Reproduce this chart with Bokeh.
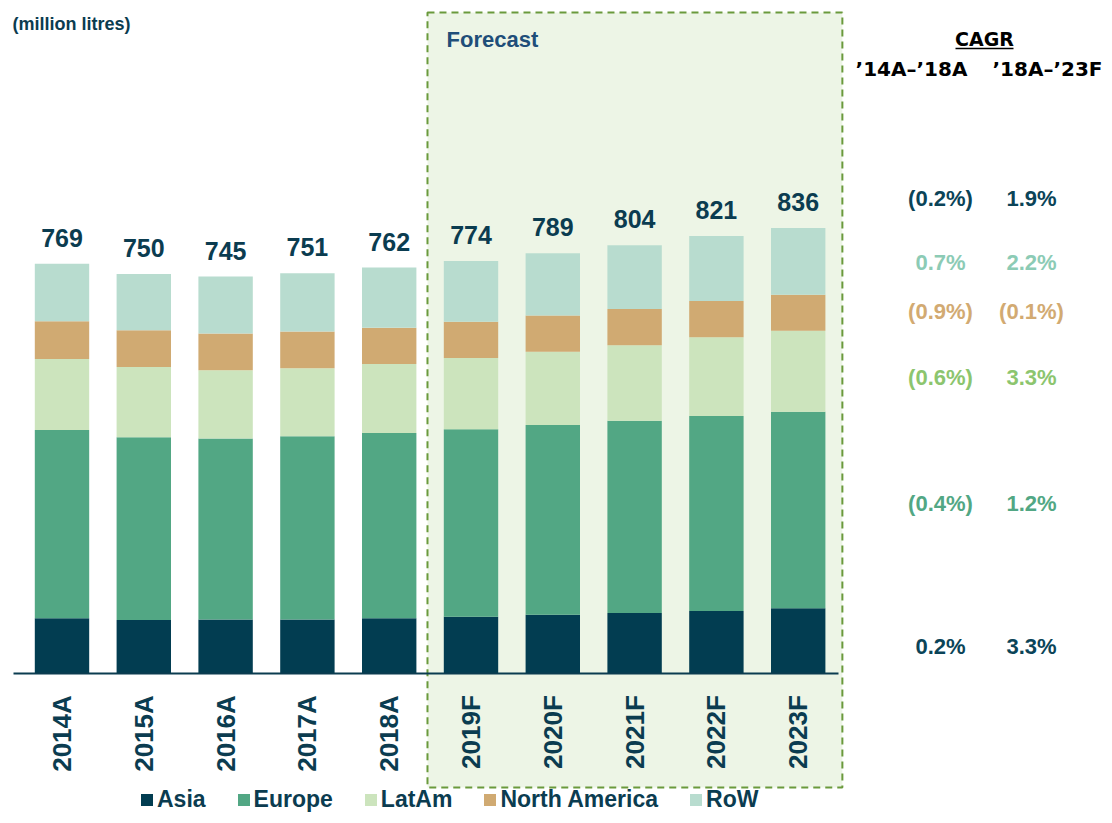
import math
from bokeh.plotting import figure
from bokeh.models import (Range1d, FixedTicker, BoxAnnotation, Legend, LegendItem,
                          ColumnDataSource)
from bokeh.core.properties import value
from bokeh.embed import file_html
from bokeh.resources import INLINE

# ---------------- data (million litres) ----------------
years = ["2014A", "2015A", "2016A", "2017A", "2018A",
         "2019F", "2020F", "2021F", "2022F", "2023F"]
asia = [103, 100, 101, 101, 103, 106, 110, 113, 117, 122]
europe = [354, 343, 340, 344, 348, 352, 356, 361, 366, 369]
latam = [133, 132, 128, 128, 130, 134, 138, 142, 148, 152]
north_america = [71, 69, 69, 69, 68, 68, 68, 68, 68, 68]
rest_of_world = [108, 106, 107, 109, 113, 114, 117, 120, 122, 125]
totals = [769, 750, 745, 751, 762, 774, 789, 804, 821, 836]

series_names = ["Asia", "Europe", "LatAm", "North America", "RoW"]
first_forecast = "2019F"

# CAGR table, rows from top to bottom: Total, RoW, North America, LatAm, Europe, Asia
cagr_rows = ["Total", "RoW", "North America", "LatAm", "Europe", "Asia"]
cagr_14_18 = ["(0.2%)", "0.7%", "(0.9%)", "(0.6%)", "(0.4%)", "0.2%"]
cagr_18_23 = ["1.9%", "2.2%", "(0.1%)", "3.3%", "1.2%", "3.3%"]

# ---------------- styles / layout ----------------
DARK = "#0b3c50"
COLORS = ["#023d51", "#52a784", "#cce4bd", "#d0aa72", "#b8dccf"]
CAGR_COLORS = ["#0b4458", "#8ccbb5", "#d2aa72", "#8cc56e", "#52a784", "#0b4458"]
FONT = value("Liberation Sans")
WIDE_FONT = value("DejaVu Sans")

W, H = 1104, 815
BASE_PY = 672.7         # canvas y of the baseline
PX_PER_UNIT = 0.5324    # vertical scale
X0_PX, STEP_PX = 61.5, 81.8   # canvas x of the first bar centre, category step
CAGR_ROW_PY = [198, 262, 311, 377, 503, 646]   # canvas y of the CAGR table rows


def px_x(px):
    return (px - X0_PX) / STEP_PX


def px_y(py):
    return (BASE_PY - py) / PX_PER_UNIT


idx = list(range(len(years)))
stack_keys = ["asia", "europe", "latam", "north_america", "row"]
src = ColumnDataSource(dict(x=idx, asia=asia, europe=europe, latam=latam,
                            north_america=north_america, row=rest_of_world))

p = figure(width=W, height=H, output_backend="svg", toolbar_location=None,
           title=None, y_axis_location=None,
           x_range=Range1d(px_x(0), px_x(W)),
           y_range=Range1d(px_y(H), px_y(0)),
           min_border=0, min_border_left=0, min_border_right=0,
           min_border_top=0, min_border_bottom=0)
p.outline_line_color = None
p.xgrid.visible = False
p.ygrid.visible = False
p.background_fill_color = "white"

# forecast box
ff = years.index(first_forecast)
box = BoxAnnotation(left=ff - 0.532, right=len(years) - 1 + 0.54,
                    top=px_y(12), bottom=px_y(787),
                    fill_color="#edf5e6", fill_alpha=1.0,
                    line_color="#6a9a3c", line_alpha=1.0, line_width=2,
                    line_dash="7 5", level="underlay")
p.add_layout(box)

# stacked bars
rends = p.vbar_stack(stack_keys, x="x", width=0.665, color=COLORS,
                     line_color=None, source=src)

# totals
p.text(x=idx, y=[t + 26 / PX_PER_UNIT for t in totals], text=[str(t) for t in totals],
       text_align="center", text_baseline="middle", text_font=FONT,
       text_font_style="bold", text_font_size="25px", text_color=DARK)

# x axis placed at the baseline
ax = p.xaxis[0]
ax.fixed_location = 0
ax.ticker = FixedTicker(ticks=idx)
ax.major_label_overrides = {i: y for i, y in zip(idx, years)}
ax.major_label_orientation = math.pi / 2
ax.major_label_text_font = "Liberation Sans"
ax.major_label_text_font_style = "bold"
ax.major_label_text_font_size = "26px"
ax.major_label_text_color = DARK
ax.major_label_standoff = 16
ax.major_tick_line_color = None
ax.minor_tick_line_color = None
ax.axis_line_color = DARK
ax.axis_line_width = 2
ax.bounds = (px_x(13), px_x(838))

# unit note and forecast caption
p.text(x=[px_x(12)], y=[px_y(23)], text=["(million litres)"], text_align="left",
       text_baseline="middle", text_font=FONT, text_font_style="bold",
       text_font_size="18px", text_color=DARK)
p.text(x=[px_x(446)], y=[px_y(39)], text=["Forecast"], text_align="left",
       text_baseline="middle", text_font=FONT, text_font_style="bold",
       text_font_size="22px", text_color="#1f4e79")

# CAGR table
col1, col2 = px_x(940), px_x(1031)
p.text(x=[px_x(984)], y=[px_y(38)], text=["CAGR"], text_align="center",
       text_baseline="middle", text_font=WIDE_FONT, text_font_style="bold",
       text_font_size="19px", text_color="black")
p.segment(x0=[px_x(955)], y0=[px_y(48)], x1=[px_x(1013)], y1=[px_y(48)],
          line_color="black", line_width=1.5)
p.text(x=[px_x(911), px_x(1047)], y=[px_y(68)] * 2,
       text=["\u201914A\u2013\u201918A", "\u201918A\u2013\u201923F"],
       text_align="center", text_baseline="middle", text_font=WIDE_FONT,
       text_font_style="bold", text_font_size="20px", text_color="black")

row_y = [px_y(py) for py in CAGR_ROW_PY]
p.text(x=[col1] * len(cagr_rows), y=row_y, text=cagr_14_18, text_align="center",
       text_baseline="middle", text_font=FONT, text_font_style="bold",
       text_font_size="22px", text_color=CAGR_COLORS)
p.text(x=[col2] * len(cagr_rows), y=row_y, text=cagr_18_23, text_align="center",
       text_baseline="middle", text_font=FONT, text_font_style="bold",
       text_font_size="22px", text_color=CAGR_COLORS)

# legend
items = [LegendItem(label=n, renderers=[r]) for n, r in zip(series_names, rends)]
legend = Legend(items=items, orientation="horizontal", location=(139, 2),
                label_text_font="Liberation Sans", label_text_font_style="bold",
                label_text_font_size="23px", label_text_color=DARK,
                label_height=24,
                glyph_width=15, glyph_height=15, label_standoff=3, spacing=30,
                padding=0, margin=0, border_line_color=None,
                background_fill_alpha=0)
p.add_layout(legend)

open("out.html", "w").write(file_html(p, INLINE))
